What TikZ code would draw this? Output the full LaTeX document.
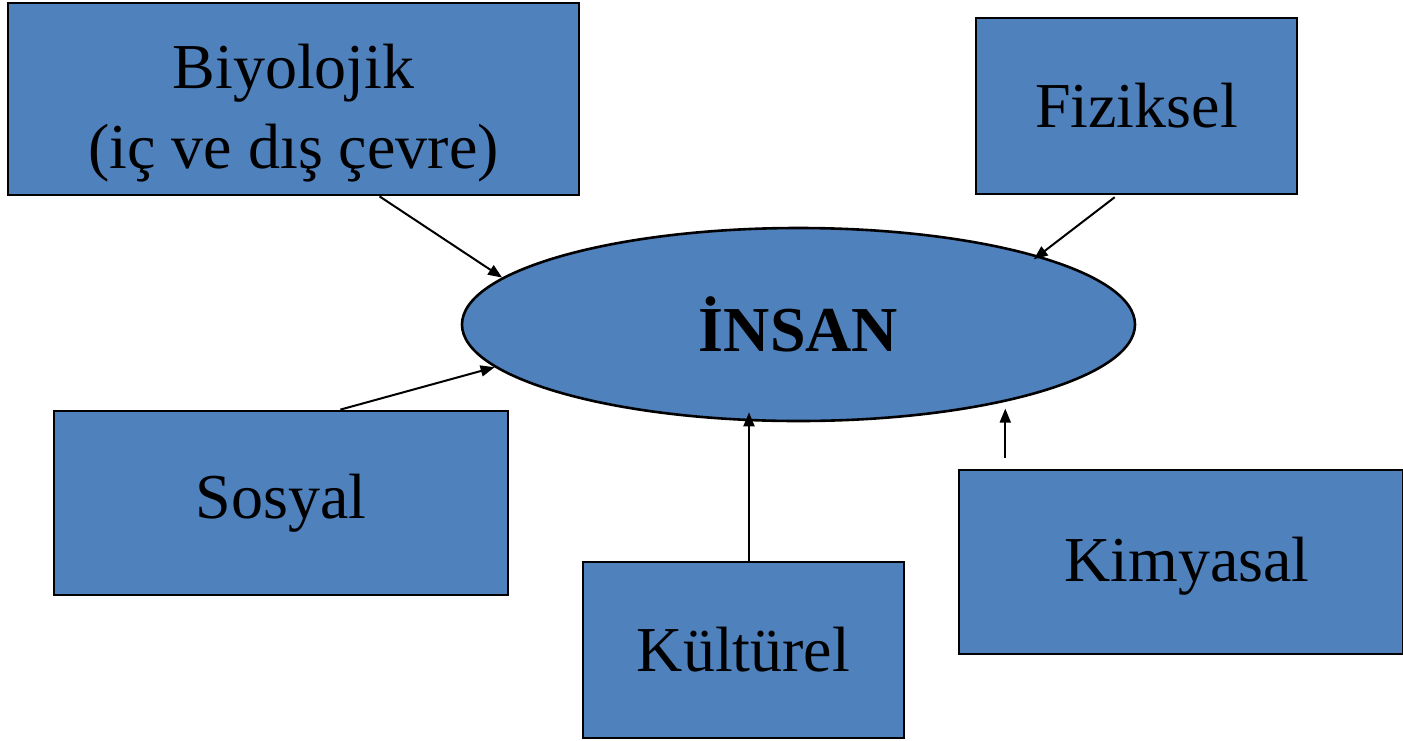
\documentclass[tikz,border=0pt]{standalone}
\usepackage{fontspec}
\setmainfont{Liberation Serif}
\usetikzlibrary{calc,positioning}
\usetikzlibrary{shapes.geometric,arrows.meta}
\usepackage{xcolor}
\definecolor{kutumavi}{HTML}{4F81BD}

\begin{document}
\begin{tikzpicture}[x=0.5pt,y=-0.5pt,
		kutu/.style = {draw, line width=1.4pt, fill=kutumavi, rectangle, inner sep=0pt, align=center, font=\fontsize{32}{40}\selectfont},
		oval/.style = {draw, line width=1.3pt, fill=kutumavi, ellipse, inner sep=0pt, minimum width=336.5pt, minimum height=96.5pt, font=\fontsize{32}{40}\selectfont\bfseries},
		ok/.style = {-{Triangle[length=7pt,width=5.5pt]}, line width=1pt}]
		\useasboundingbox (0,0) rectangle (1403,740);
		\node[oval] (insan) at (798.5,324.5) {İNSAN};
		\node[kutu, minimum width=285.5pt, minimum height=96pt] (biyo) at (293.5,99) {\rule{0pt}{36pt}Biyolojik\\(iç ve dış çevre)};
		\node[kutu, minimum width=160.5pt, minimum height=88pt] (fizik) at (1136.5,106) {Fiziksel};
		\node[kutu, minimum width=227pt, minimum height=92pt] (sosyal) at (281,503) {Sosyal};
		\node[kutu, minimum width=160.5pt, minimum height=88pt] (kultur) at (743.5,650) {Kültürel};
		\node[kutu, minimum width=222pt, minimum height=92pt, text height=26pt] (kimya) at (1181,562) {\hspace*{6pt}Kimyasal};
		\coordinate (kiucu) at ($(kimya.north west)!0.1!(kimya.north east) + (3,-60)$);
		\draw[ok] ($(biyo.south west)!0.65!(biyo.south east)$) -- (insan.171);
		\draw[ok, shorten <=1.5pt, shorten >=-3pt] ($(fizik.south west)!0.44!(fizik.south east)$) -- (insan.16);
		\draw[ok] ($(sosyal.north west)!0.63!(sosyal.north east)$) -- (insan.188);
		\draw[ok, shorten >=-5pt] ($(kultur.north west)!0.517!(kultur.north east)$) coordinate (ku) -- (ku |- insan.south);
		\draw[ok, shorten <=5.5pt] (kiucu |- kimya.north) -- (kiucu);
	\end{tikzpicture}
\end{document}
